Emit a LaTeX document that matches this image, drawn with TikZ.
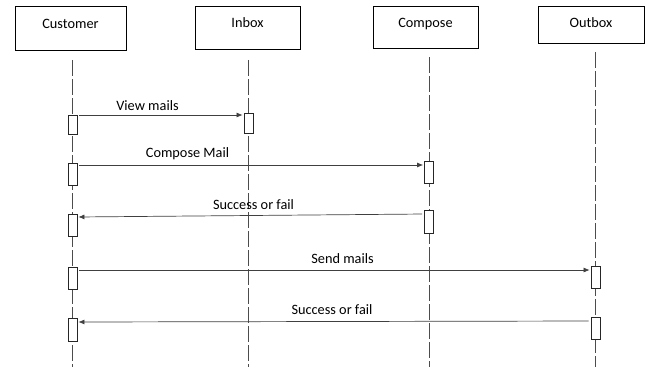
\documentclass[tikz,border=0pt]{standalone}
\usepackage{fontspec}
\setmainfont{Carlito}
\usetikzlibrary{arrows.meta}

\tikzset{
  actor/.style={draw=black, line width=0.8pt, inner sep=0pt,
    text height=9pt, text depth=9pt, font=\fontsize{14.3}{16}\selectfont},
  lifeline/.style={draw=black!70, line width=0.7pt, dash pattern=on 16pt off 3pt},
  actbox/.style={draw=black!85, fill=white, line width=0.8pt, inner sep=0pt,
    minimum width=9pt},
  msg/.style={draw=black!75, line width=0.7pt,
    -{Latex[length=6pt,width=5pt]}, shorten <=2pt, shorten >=1pt},
  msglabel/.style={anchor=base, inner sep=0pt, font=\fontsize{14.3}{16}\selectfont}
}

\begin{document}
\begin{tikzpicture}[x=1pt,y=-1pt]
  \useasboundingbox[fill=white] (0,0) rectangle (652,367);

  % participants
  \node[actor, minimum width=111pt, minimum height=44pt] (customer) at (70.5,28) {Customer};
  \node[actor, minimum width=105pt, minimum height=43pt] (inbox) at (247.5,27.5) {Inbox};
  \node[actor, minimum width=105pt, minimum height=42pt] (compose) at (425.5,27) {Compose};
  \node[actor, minimum width=106pt, minimum height=37pt, text height=12pt, text depth=7pt] (outbox) at (591,24.5) {Outbox};

  % lifelines
  \coordinate (cuT) at (72.5,60);   \coordinate (cuB) at (72.5,367);
  \coordinate (inT) at (248.5,60);  \coordinate (inB) at (248.5,367);
  \coordinate (coT) at (429,57);    \coordinate (coB) at (429,367);
  \coordinate (ouT) at (595.5,52);  \coordinate (ouB) at (595.5,367);
  \draw[lifeline] (cuT) -- (cuB);
  \draw[lifeline] (inT) -- (inB);
  \draw[lifeline] (coT) -- (coB);
  \draw[lifeline] (ouT) -- (ouB);

  % activation bars
  \node[actbox, minimum height=19pt] (cu1) at (72.5,124.5) {};
  \node[actbox, minimum height=20pt] (in1) at (248.5,123) {};
  \node[actbox, minimum height=22pt] (cu2) at (72.5,174) {};
  \node[actbox, minimum height=22pt] (co2) at (429,172) {};
  \node[actbox, minimum height=22pt] (cu3) at (72.5,225) {};
  \node[actbox, minimum height=23pt] (co3) at (429,221.5) {};
  \node[actbox, minimum height=22pt] (cu4) at (72.5,278) {};
  \node[actbox, minimum height=22pt] (ou4) at (595.5,277) {};
  \node[actbox, minimum height=23pt] (cu5) at (72.5,329.5) {};
  \node[actbox, minimum height=22pt] (ou5) at (595.5,328) {};

  % messages
  \draw[msg] ([yshift=9.5pt]cu1.east) -- ([yshift=8pt]in1.west);
  \draw[msg] ([yshift=9pt]cu2.east) -- ([yshift=7pt]co2.west);
  \draw[msg] ([yshift=7.5pt]co3.west) -- ([yshift=8pt]cu3.east);
  \draw[msg] ([yshift=8pt]cu4.east) -- ([yshift=7pt]ou4.west);
  \draw[msg] ([yshift=7pt]ou5.west) -- ([yshift=7.5pt]cu5.east);

  % message labels
  \node[msglabel] (l1) at (147.5,110) {View mails};
  \node[msglabel] (l2) at (187.5,157) {Compose Mail};
  \node[msglabel] (l3) at (253.5,209.5) {Success or fail};
  \node[msglabel] (l4) at (342.5,263) {Send mails};
  \node[msglabel] (l5) at (332,314) {Success or fail};
\end{tikzpicture}
\end{document}
